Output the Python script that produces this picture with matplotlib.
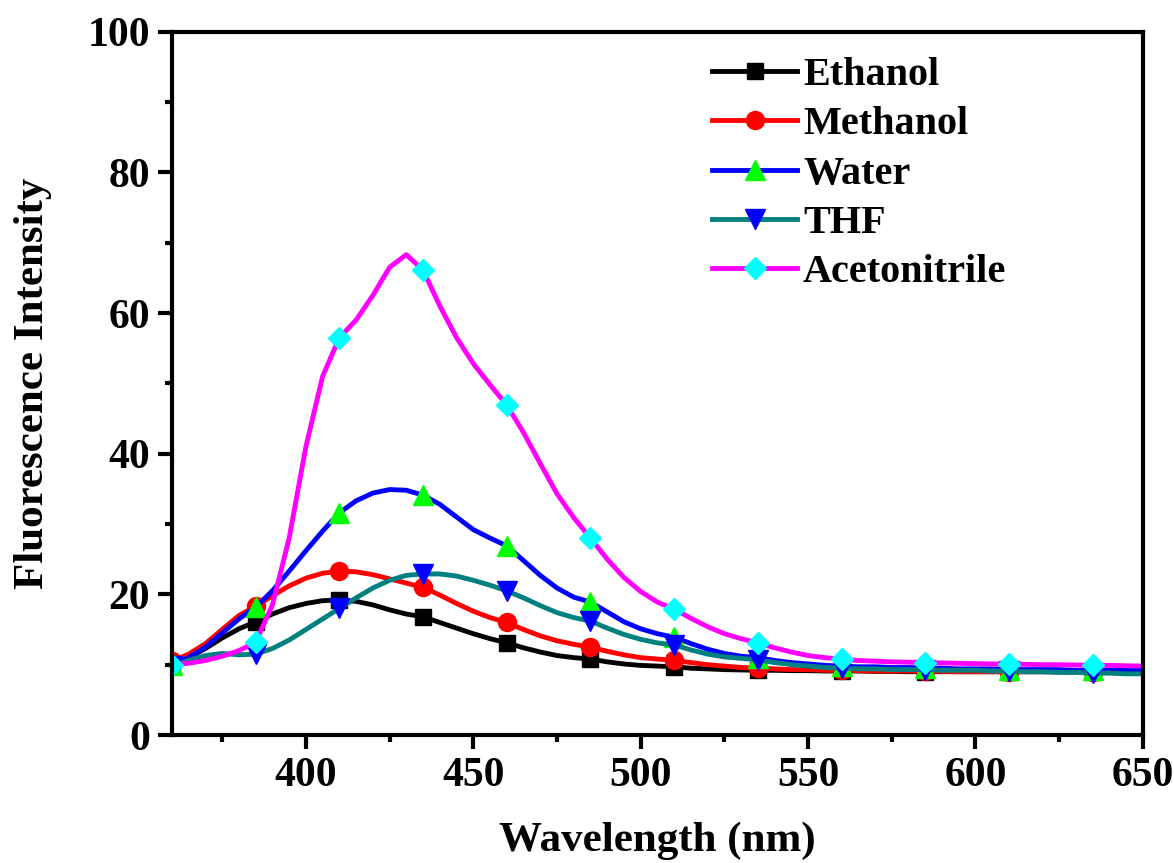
import numpy as np
import matplotlib
matplotlib.use("Agg")
import matplotlib.pyplot as plt
from matplotlib.ticker import MultipleLocator

plt.rcParams['font.family'] = ['Liberation Serif', 'DejaVu Serif']
plt.rcParams['font.weight'] = 'bold'

# wavelength grid (nm), 5 nm steps
wavelength = np.arange(360, 651, 5)

ethanol = [10.0, 11.0, 12.3, 13.8, 15.1, 16.1, 17.2, 18.1, 18.7, 19.1,
           19.2, 19.0, 18.5, 17.8, 17.2, 16.8, 16.0, 15.2, 14.4, 13.7,
           13.1, 12.4, 11.8, 11.3, 11.0, 10.8, 10.4, 10.1, 9.9, 9.8,
           9.7, 9.5, 9.4, 9.3, 9.25, 9.2, 9.2, 9.15, 9.15, 9.1,
           9.1, 9.1, 9.05, 9.05, 9.0, 9.0, 9.0, 9.0, 9.0, 9.0,
           9.0, 9.0, 9.0, 9.0, 9.0, 9.0, 9.0, 9.0, 9.0]
methanol = [10.5, 11.5, 13.0, 15.0, 17.0, 18.3, 19.8, 21.2, 22.3, 23.0,
            23.3, 23.2, 22.8, 22.2, 21.6, 21.0, 19.9, 18.7, 17.6, 16.7,
            16.0, 15.0, 14.1, 13.4, 12.9, 12.5, 11.9, 11.4, 11.0, 10.8,
            10.6, 10.3, 10.0, 9.8, 9.6, 9.5, 9.4, 9.3, 9.3, 9.2,
            9.2, 9.15, 9.1, 9.1, 9.1, 9.05, 9.05, 9.0, 9.0, 9.0,
            9.0, 9.0, 9.0, 9.0, 9.0, 9.0, 9.0, 9.0, 9.0]
water = [10.0, 11.0, 12.5, 14.5, 16.5, 18.2, 20.5, 23.3, 26.2, 29.0,
         31.6, 33.3, 34.4, 34.9, 34.8, 34.1, 32.8, 31.0, 29.2, 28.0,
         26.9, 24.8, 22.7, 20.9, 19.6, 18.9, 17.5, 16.1, 15.1, 14.4,
         13.9, 13.0, 12.2, 11.6, 11.2, 11.0, 10.6, 10.3, 10.1, 9.9,
         9.8, 9.7, 9.7, 9.6, 9.6, 9.5, 9.5, 9.4, 9.4, 9.4,
         9.3, 9.3, 9.3, 9.3, 9.2, 9.2, 9.2, 9.2, 9.2]
thf = [9.8, 10.6, 11.3, 11.6, 11.4, 11.5, 12.3, 13.5, 15.0, 16.5,
       18.0, 19.5, 20.9, 22.0, 22.7, 22.9, 22.9, 22.6, 22.0, 21.3,
       20.5, 19.5, 18.4, 17.4, 16.7, 16.2, 15.2, 14.3, 13.6, 13.1,
       12.8, 12.1, 11.5, 11.1, 10.9, 10.7, 10.3, 10.0, 9.8, 9.6,
       9.5, 9.4, 9.4, 9.3, 9.3, 9.3, 9.2, 9.2, 9.2, 9.1,
       9.1, 9.0, 9.0, 8.9, 8.9, 8.8, 8.8, 8.7, 8.7]
acetonitrile = [10.0, 10.2, 10.6, 11.2, 12.0, 13.2, 18.5, 28.0, 41.0, 51.0,
                56.5, 59.0, 62.5, 66.5, 68.3, 66.1, 61.0, 56.5, 52.8, 49.8,
                46.9, 43.0, 38.6, 34.3, 30.9, 28.0, 25.0, 22.4, 20.4, 18.9,
                17.9, 16.6, 15.4, 14.4, 13.7, 13.1, 12.4, 11.8, 11.3, 11.0,
                10.8, 10.6, 10.5, 10.4, 10.35, 10.3, 10.25, 10.2, 10.15, 10.1,
                10.1, 10.05, 10.0, 10.0, 9.95, 9.9, 9.9, 9.85, 9.8]

series = [
    ("Ethanol", ethanol, 'black', 's', 'black'),
    ("Methanol", methanol, 'red', 'o', 'red'),
    ("Water", water, 'blue', '^', '#00ff00'),
    ("THF", thf, '#008080', 'v', 'blue'),
    ("Acetonitrile", acetonitrile, 'magenta', 'D', 'cyan'),
]

fig = plt.figure(figsize=(11.74, 8.63), dpi=100)
ax = fig.add_axes([0.1465, 0.1483, 0.827, 0.815])

for name, vals, lc, mk, mc in series:
    msize = {'s': 11, 'o': 13, '^': 14, 'v': 14, 'D': 11}[mk]
    ax.plot(wavelength, vals, color=lc, lw=3.5, marker=mk, markevery=5,
            markersize=msize, markerfacecolor=mc, markeredgecolor=mc,
            label=name)

ax.set_xlim(360, 650)
ax.set_ylim(0, 100)
ax.xaxis.set_major_locator(MultipleLocator(50))
ax.xaxis.set_minor_locator(MultipleLocator(25))
ax.yaxis.set_major_locator(MultipleLocator(20))
ax.yaxis.set_minor_locator(MultipleLocator(10))

for s in ax.spines.values():
    s.set_linewidth(3)
ax.tick_params(which='major', direction='out', length=10, width=3,
               labelsize=30, pad=6)
ax.tick_params(which='minor', direction='out', length=5, width=3)
for lab in ax.get_xticklabels() + ax.get_yticklabels():
    lab.set_fontweight('bold')

ax.set_xlabel("Wavelength (nm)", fontsize=31, fontweight='bold', labelpad=19)
ax.set_ylabel("Fluorescence Intensity", fontsize=31, fontweight='bold', labelpad=25)

leg = ax.legend(loc='upper left', bbox_to_anchor=(0.54, 0.987), frameon=False,
                fontsize=29, handlelength=2.1, handletextpad=0.15,
                labelspacing=0.3, borderaxespad=0)
for t in leg.get_texts():
    t.set_fontweight('bold')

plt.savefig("out.png", dpi=100)
